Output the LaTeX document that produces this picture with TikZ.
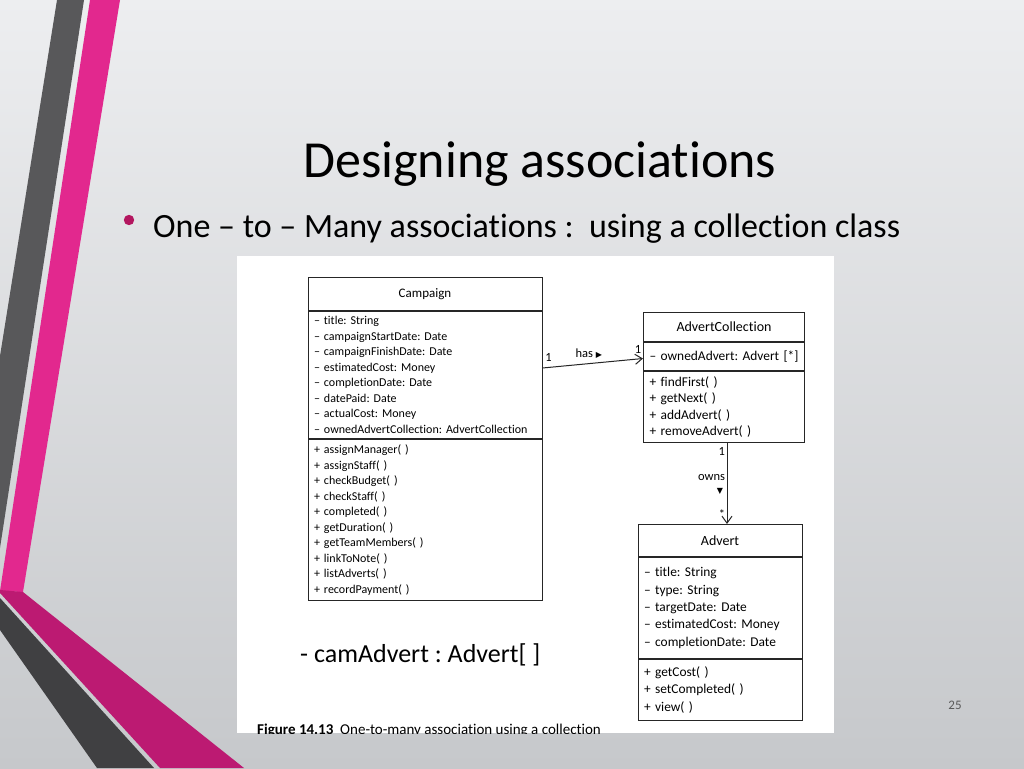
\documentclass[tikz,border=0pt]{standalone}
\usepackage{fontspec}
\setmainfont{Carlito}[Ligatures={TeX,NoCommon}]
\newfontfamily\symfont{DejaVu Sans}
\usetikzlibrary{positioning,arrows.meta}
\frenchspacing

\definecolor{slidetop}{HTML}{EDEEF0}
\definecolor{slidebottom}{HTML}{C6C8CB}
\definecolor{stripepink}{HTML}{E2288E}
\definecolor{deeppink}{HTML}{BC1A72}
\definecolor{stripegrey}{HTML}{58585A}
\definecolor{darkgrey}{HTML}{404042}
\definecolor{bulletpink}{HTML}{B3165F}
\definecolor{umlline}{HTML}{262626}

\begin{document}
\begin{tikzpicture}[x=1pt,y=-1pt,
classname/.style={draw=umlline,
  fill=white,
  line width=1pt,
  inner sep=0pt,
  node font=\fontsize{14}{16}\selectfont
},
classbody/.style={draw=umlline,
  fill=white,
  line width=1pt,
  align=left,
  inner xsep=6pt,
  inner ysep=0pt
},
smalltext/.style={node font=\fontsize{12}{15.5}\selectfont},
largetext/.style={node font=\fontsize{13.4}{17.3}\selectfont},
assoc/.style={draw=umlline,
  line width=1pt,
  -{Straight Barb[length=7pt,width=10pt]}
},
mult/.style={inner sep=1.5pt, node font=\fontsize{12.5}{14}\selectfont}
]
\useasboundingbox (0,0) rectangle (1024,768);

% slide background and side stripes
\shade[top color=slidetop, bottom color=slidebottom] (0,0) rectangle (1024,768);
\fill[stripegrey] (57,0) -- (84,0) -- (0,548) -- (0,356) -- cycle;
\fill[stripepink] (90,0) -- (120,0) -- (23,592) -- (0,591) -- cycle;
\fill[deeppink] (0,590) -- (23,592) -- (244,768) -- (160,768) -- (0,593) -- cycle;
\fill[darkgrey] (0,598) -- (154,768) -- (97,768) -- (0,630) -- cycle;

\node (title) [anchor=base west, inner sep=0pt, node font=\fontsize{52}{60}\selectfont]
  at (303,177) {Designing associations};
\fill[bulletpink] (129,220) circle (5.2);
\node (bullet) [anchor=base west, inner sep=0pt, node font=\fontsize{34}{40}\selectfont]
  at (153,237) {One -- to -- Many associations :\ \ using a collection class};

% scanned figure
\fill[white] (237,256) rectangle (834,733);

\node (camp) [classname, minimum width=234pt, minimum height=33pt, anchor=north,
  node font=\fontsize{13}{15}\selectfont]
  at (425,277) {Campaign};
\node (camp-attr) [classbody, smalltext, text width=222pt, minimum height=127pt, below=0pt of camp]
  {-- title: String\\
   -- campaignStartDate: Date\\
   -- campaignFinishDate: Date\\
   -- estimatedCost: Money\\
   -- completionDate: Date\\
   -- datePaid: Date\\
   -- actualCost: Money\\
   -- ownedAdvertCollection: AdvertCollection};
\node (camp-ops) [classbody, smalltext, text width=222pt, minimum height=161pt, below=0pt of camp-attr]
  {+ assignManager( )\\
   + assignStaff( )\\
   + checkBudget( )\\
   + checkStaff( )\\
   + completed( )\\
   + getDuration( )\\
   + getTeamMembers( )\\
   + linkToNote( )\\
   + listAdverts( )\\
   + recordPayment( )};

\node (coll) [classname, minimum width=161pt, minimum height=29pt, anchor=north]
  at (724,312) {AdvertCollection};
\node (coll-attr) [classbody, largetext, text width=149pt, minimum height=28pt, below=0pt of coll]
  {-- ownedAdvert: Advert [*]};
\node (coll-ops) [classbody, largetext, text width=149pt, minimum height=71pt, below=0pt of coll-attr,
  node font=\fontsize{13.4}{16.5}\selectfont]
  {+ findFirst( )\\
   + getNext( )\\
   + addAdvert( )\\
   + removeAdvert( )};

\node (advert) [classname, minimum width=164pt, minimum height=32pt, anchor=north]
  at (720,524) {Advert};
\node (advert-attr) [classbody, largetext, text width=152pt, minimum height=101pt, below=0pt of advert]
  {-- title: String\\
   -- type: String\\
   -- targetDate: Date\\
   -- estimatedCost: Money\\
   -- completionDate: Date};
\node (advert-ops) [classbody, largetext, text width=152pt, minimum height=61pt, below=0pt of advert-attr]
  {+ getCost( )\\
   + setCompleted( )\\
   + view( )};

\draw [assoc] ([yshift=7pt]camp-attr.east) --
  node [mult, pos=0.06, above=4pt] {1}
  node [mult, pos=0.46, above=3pt] {has {\symfont\fontsize{8}{8}\selectfont ▶}}
  node [mult, pos=0.95, above=3pt] {1}
  ([yshift=-2pt]coll-attr.west);
\draw [assoc] ([xshift=3pt]coll-ops.south) --
  node [mult, pos=0.1, left] {1}
  node [mult, pos=0.42, left] {owns}
  node [mult, pos=0.6, left=2pt] {{\symfont\fontsize{8}{8}\selectfont ▼}}
  node [mult, pos=0.88, left] {*}
  ([xshift=3pt]coll-ops.south |- advert.north);

\begin{scope}
\clip (237,256) rectangle (834,733);
\node (caption) [anchor=base west, inner sep=0pt, node font=\fontsize{15}{17}\selectfont]
  at (257,734.5) {\textbf{Figure 14.13}\ \ One-to-many association using a collection};
\end{scope}

\node (camadvert) [anchor=base west, inner sep=0pt, node font=\fontsize{26}{30}\selectfont]
  at (300,662) {- camAdvert : Advert[ ]};

\node (pagenum) [text=black!65, node font=\fontsize{13}{15}\selectfont] at (955,705) {25};
\end{tikzpicture}
\end{document}
